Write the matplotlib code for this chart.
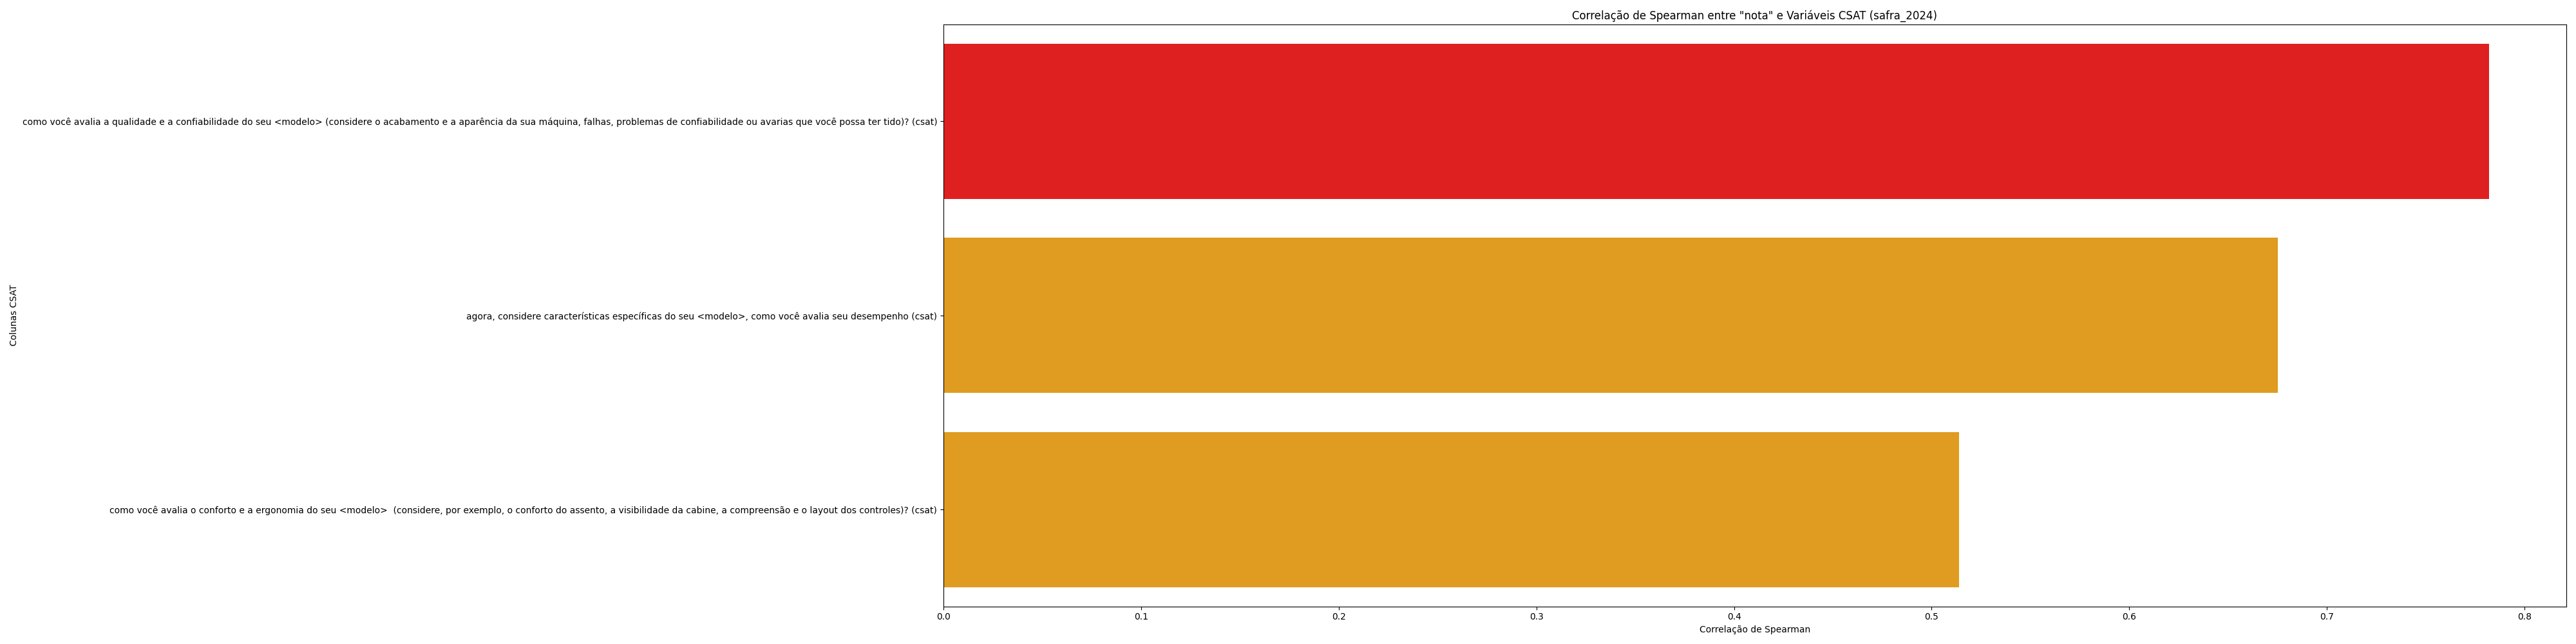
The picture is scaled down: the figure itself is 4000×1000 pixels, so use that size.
import matplotlib
matplotlib.use("Agg")
import matplotlib.pyplot as plt

perguntas = [
    "como você avalia a qualidade e a confiabilidade do seu <modelo> (considere o acabamento e a aparência da sua máquina, falhas, problemas de confiabilidade ou avarias que você possa ter tido)? (csat)",
    "agora, considere características específicas do seu <modelo>, como você avalia seu desempenho (csat)",
    "como você avalia o conforto e a ergonomia do seu <modelo>  (considere, por exemplo, o conforto do assento, a visibilidade da cabine, a compreensão e o layout dos controles)? (csat)",
]
correlacoes = [0.782, 0.675, 0.514]

# cor de destaque para a maior correlação (tons do seaborn, saturação 0.75)
vermelho = "#df2020"
laranja = "#df9c20"
cores = [vermelho if c == max(correlacoes) else laranja for c in correlacoes]

fig, ax = plt.subplots(figsize=(40, 10), dpi=100)
pos = range(len(perguntas))
ax.barh(pos, correlacoes, height=0.8, color=cores)
ax.set_yticks(list(pos))
ax.set_yticklabels(perguntas)
ax.set_ylim(len(perguntas) - 0.5, -0.5)

ax.set_title('Correlação de Spearman entre "nota" e Variáveis CSAT (safra_2024)')
ax.set_xlabel("Correlação de Spearman")
ax.set_ylabel("Colunas CSAT")

plt.tight_layout()
plt.savefig("out.png")
plt.close()
